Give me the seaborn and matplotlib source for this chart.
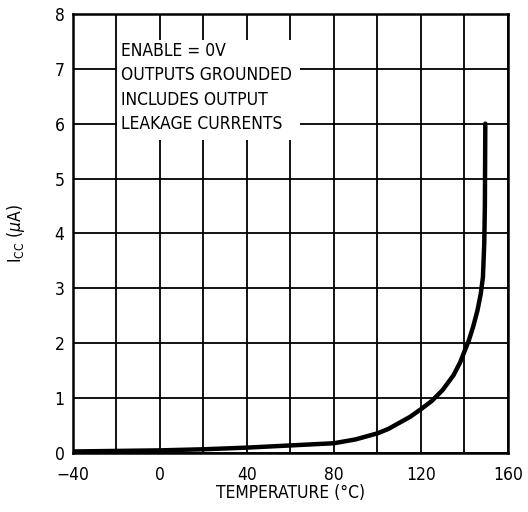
import matplotlib
matplotlib.use("Agg")
import matplotlib.pyplot as plt
import seaborn as sns
import pandas as pd
from matplotlib.patches import Rectangle

temp_c = [-40, -20, 0, 20, 40, 60, 80, 90, 100, 105, 110, 115, 120, 125, 130, 135, 138, 140, 142, 144, 146, 147.5, 148.5, 149.1, 149.4, 149.6]
icc_ua = [0.03, 0.04, 0.05, 0.07, 0.10, 0.14, 0.18, 0.25, 0.36, 0.44, 0.55, 0.66, 0.80, 0.95, 1.15, 1.42, 1.65, 1.85, 2.05, 2.3, 2.6, 2.9, 3.2, 3.8, 4.5, 6.0]
x_ticks = [-40, 0, 40, 80, 120, 160]
x_tick_labels = ["\u221240", "0", "40", "80", "120", "160"]
y_ticks = [0, 1, 2, 3, 4, 5, 6, 7, 8]
notes = ["ENABLE = 0V", "OUTPUTS GROUNDED", "INCLUDES OUTPUT", "LEAKAGE CURRENTS"]

sns.set_theme(style="white")
plt.rcParams['font.family'] = ['DejaVu Sans']
plt.rcParams['font.stretch'] = 'condensed'
plt.rcParams['mathtext.fontset'] = 'dejavusans'

df = pd.DataFrame({"temp": temp_c, "icc": icc_ua})

fig = plt.figure(figsize=(5.28, 5.12), dpi=100)
ax = fig.add_axes([0.138, 0.115, 0.824, 0.858])

for gx in range(-40, 161, 20):
    ax.axvline(gx, color="black", lw=1.3, zorder=1)
for gy in range(0, 9):
    ax.axhline(gy, color="black", lw=1.3, zorder=1)

ax.add_patch(Rectangle((-19.6, 5.7), 84, 1.82, facecolor="white", edgecolor="none", zorder=2))

sns.lineplot(data=df, x="temp", y="icc", ax=ax, color="black", lw=3.2, zorder=3, estimator=None, sort=False)

ax.set_xlim(-40, 160)
ax.set_ylim(0, 8)
ax.set_xticks(x_ticks)
ax.set_yticks(y_ticks)
ax.set_xticklabels(x_tick_labels)
ax.tick_params(axis="both", labelsize=12.5, length=0, colors="black")
ax.tick_params(axis="x", pad=9)
ax.tick_params(axis="y", pad=6)
for s in ax.spines.values():
    s.set_color("black")
    s.set_linewidth(1.8)

ax.set_xlabel("TEMPERATURE (\u00b0C)", fontsize=12.5, color="black", labelpad=0)
ax.set_ylabel("I$_{\\mathregular{CC}}$ ($\\mu$A)", fontsize=12.5, color="black", labelpad=20)

ys = [7.32, 6.88, 6.43, 5.99]
for t, yy in zip(notes, ys):
    ax.text(-17.8, yy, t, fontsize=12.5, color="black", va="center", ha="left", zorder=4)

fig.savefig("out.png", dpi=100)
